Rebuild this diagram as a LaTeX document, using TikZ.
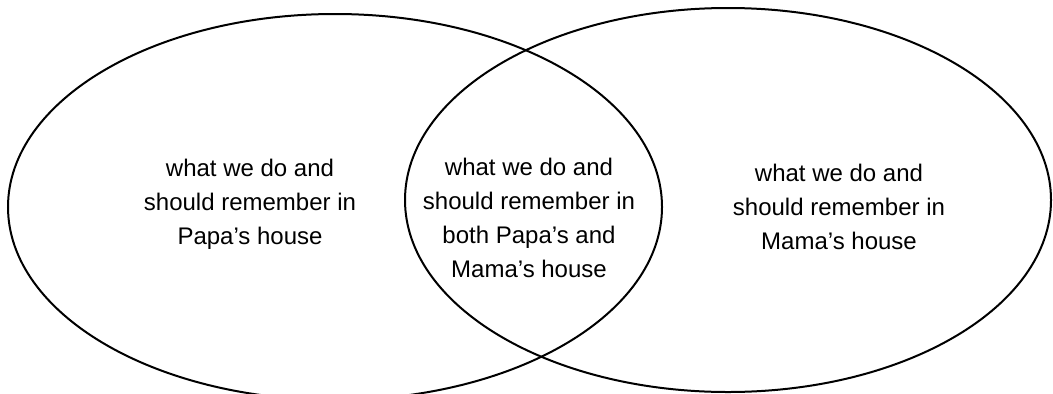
\documentclass[tikz,border=0pt]{standalone}
\usepackage{fontspec}
\setmainfont{Liberation Sans}
\usepackage{tikz}

\begin{document}
\begin{tikzpicture}[x=0.5pt,y=0.5pt,
  label/.style={align=center,font=\fontsize{12}{17}\selectfont,inner sep=0pt}]
\useasboundingbox (0,0) rectangle (1053,393);
\clip (0,0) rectangle (1053,393);
\draw[line width=1pt] (335,186) ellipse [x radius=327, y radius=193];
\draw[line width=1pt] (728,193) ellipse [x radius=323, y radius=192];
\node[label] (papa) at (250,189) {what we do and\\should remember in\\Papa’s house};
\node[label] (both) at (529,175) {what we do and\\should remember in\\both Papa’s and\\Mama’s house};
\node[label] (mama) at (839,186) {what we do and\\should remember in\\Mama’s house};
\end{tikzpicture}
\end{document}
